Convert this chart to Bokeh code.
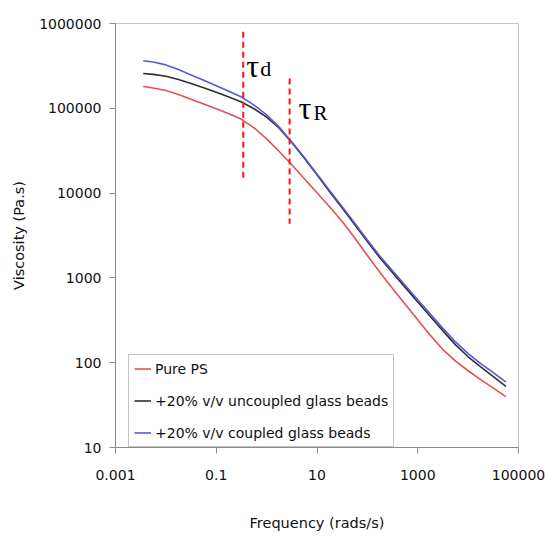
from bokeh.plotting import figure
from bokeh.models import FixedTicker, Label, Legend, LegendItem
from bokeh.embed import file_html
from bokeh.resources import INLINE

# ---- data (log10 values) ----
log_freq = [-2.45, -2.25, -2.0, -1.75, -1.5, -1.25, -1.0, -0.75, -0.5, -0.25,
            0.0, 0.25, 0.5, 0.75, 1.0, 1.25, 1.5, 1.75, 2.0, 2.25,
            2.5, 2.75, 3.0, 3.25, 3.5, 3.75, 4.0, 4.25, 4.5, 4.75]
log_pure_ps = [5.257, 5.240, 5.210, 5.163, 5.107, 5.052, 4.995, 4.935, 4.870, 4.770,
               4.640, 4.490, 4.335, 4.170, 4.005, 3.840, 3.665, 3.470, 3.265, 3.065,
               2.875, 2.690, 2.507, 2.322, 2.155, 2.018, 1.905, 1.800, 1.700, 1.600]
log_uncoupled = [5.410, 5.400, 5.377, 5.340, 5.293, 5.242, 5.188, 5.133, 5.075, 4.995,
                 4.895, 4.765, 4.598, 4.412, 4.215, 4.017, 3.823, 3.627, 3.428, 3.235,
                 3.060, 2.888, 2.716, 2.545, 2.375, 2.210, 2.070, 1.950, 1.835, 1.720]
log_coupled = [5.560, 5.546, 5.512, 5.457, 5.394, 5.331, 5.266, 5.200, 5.133, 5.038,
               4.922, 4.778, 4.602, 4.420, 4.225, 4.030, 3.840, 3.645, 3.447, 3.255,
               3.083, 2.913, 2.743, 2.573, 2.405, 2.245, 2.108, 1.990, 1.882, 1.770]

freq = [10**v for v in log_freq]
pure_ps = [10**v for v in log_pure_ps]
uncoupled = [10**v for v in log_uncoupled]
coupled = [10**v for v in log_coupled]

series_names = ["Pure PS", "+20% v/v uncoupled glass beads", "+20% v/v coupled glass beads"]
series_colors = ["#e65050", "#303030", "#5858dc"]

x_ticks = [0.001, 0.1, 10, 1000, 100000]
x_tick_labels = ["0.001", "0.1", "10", "1000", "100000"]
y_ticks = [10, 100, 1000, 10000, 100000, 1000000]
y_tick_labels = ["10", "100", "1000", "10000", "100000", "1000000"]

# characteristic times (vertical dashed markers)
tau_d = 0.344
tau_d_span = [800000, 15200]
tau_r = 2.86
tau_r_span = [225000, 4350]

FONT = "DejaVu Sans"
SERIF = "Liberation Serif"

p = figure(width=547, height=537, x_axis_type="log", y_axis_type="log",
           x_range=(0.001, 100000), y_range=(10, 1000000),
           output_backend="svg", toolbar_location=None,
           min_border_left=115, min_border_right=29, min_border_top=23, min_border_bottom=90)
p.background_fill_color = "white"
p.border_fill_color = "white"
p.outline_line_color = "#c4c4c4"
p.grid.visible = False

p.xaxis.ticker = FixedTicker(ticks=x_ticks, minor_ticks=[])
p.yaxis.ticker = FixedTicker(ticks=y_ticks, minor_ticks=[])
p.xaxis.major_label_overrides = dict(zip(x_ticks, x_tick_labels))
p.yaxis.major_label_overrides = dict(zip(y_ticks, y_tick_labels))
for ax in (p.xaxis, p.yaxis):
    ax.axis_line_color = "#8a8a8a"
    ax.major_tick_line_color = "#8a8a8a"
    ax.major_tick_out = 6
    ax.major_tick_in = 0
    ax.minor_tick_line_color = None
    ax.major_label_text_font = FONT
    ax.major_label_text_font_size = "14px"
    ax.major_label_text_color = "#111111"
    ax.axis_label_text_font = FONT
    ax.axis_label_text_font_size = "14.5px"
    ax.axis_label_text_font_style = "normal"
    ax.axis_label_text_color = "#111111"
p.xaxis.axis_label = "Frequency (rads/s)"
p.yaxis.axis_label = "Viscosity (Pa.s)"
p.xaxis.major_label_standoff = 16
p.xaxis.axis_label_standoff = 32
p.yaxis.major_label_standoff = 8
p.yaxis.axis_label_standoff = 9

renderers = []
for ys, c in zip([pure_ps, uncoupled, coupled], series_colors):
    r = p.line(freq, ys, line_color=c, line_width=1.6)
    renderers.append(r)

p.line([tau_d, tau_d], tau_d_span, line_color="#ff1010", line_width=2, line_dash="6 4")
p.line([tau_r, tau_r], tau_r_span, line_color="#ff1010", line_width=2, line_dash="6 4")

p.add_layout(Label(x=tau_d, y=10**5.504, x_offset=3, text="τ", text_font=SERIF,
                   text_font_size="32px", text_color="black", text_baseline="alphabetic"))
p.add_layout(Label(x=tau_d, y=10**5.470, x_offset=17, text="d", text_font=SERIF,
                   text_font_size="22px", text_color="black", text_baseline="alphabetic"))
p.add_layout(Label(x=tau_r, y=10**4.998, x_offset=9, text="τ", text_font=SERIF,
                   text_font_size="32px", text_color="black", text_baseline="alphabetic"))
p.add_layout(Label(x=tau_r, y=10**4.950, x_offset=24, text="R", text_font=SERIF,
                   text_font_size="21px", text_color="black", text_baseline="alphabetic"))

legend = Legend(items=[LegendItem(label=n, renderers=[r]) for n, r in zip(series_names, renderers)],
                location=(13, 0))
legend.label_text_font = FONT
legend.label_text_font_size = "14px"
legend.label_text_color = "#111111"
legend.glyph_width = 17
legend.glyph_height = 17
legend.label_height = 17
legend.label_standoff = 4
legend.spacing = 15
legend.padding = 5
legend.margin = 0
legend.border_line_color = "#8a8a8a"
legend.border_line_width = 1
legend.background_fill_color = "white"
legend.background_fill_alpha = 1.0
p.add_layout(legend, "center")

open("out.html", "w").write(file_html(p, INLINE))
